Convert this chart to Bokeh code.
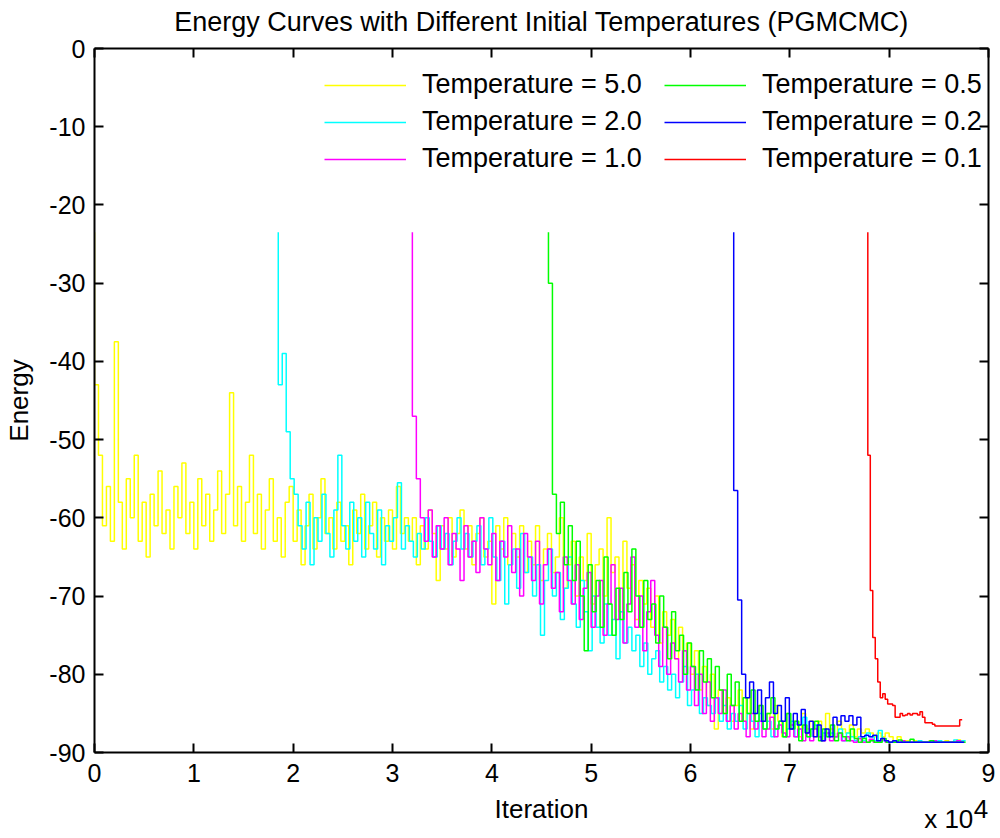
from bokeh.plotting import figure
from bokeh.models import Range1d, LinearAxis, FixedTicker, Legend, LegendItem
from bokeh.embed import file_html
from bokeh.resources import INLINE

# ---------------- data ----------------
chart_title = "Energy Curves with Different Initial Temperatures (PGMCMC)"
series_labels = ["Temperature = 5.0", "Temperature = 2.0", "Temperature = 1.0",
                 "Temperature = 0.5", "Temperature = 0.2", "Temperature = 0.1"]
series_colors = ["#ffff00", "#00ffff", "#ff00ff", "#00ff00", "#0000ff", "#ff0000"]
start_iteration = [0, 18500, 32000, 45700, 64350, 77850]
iteration_step = [400, 400, 400, 400, 400, 250]

energy_t50 = [
    -23.5, -43, -52, -61, -56, -63, -37.5, -58, -64, -55,
    -60, -52, -63, -58, -65, -57, -61, -54, -62, -59,
    -64, -56, -60, -53, -62, -58, -64, -55, -61, -57,
    -63, -59, -54, -62, -57, -44, -61, -56, -63, -58,
    -52, -62, -57, -64, -59, -55, -63, -60, -65, -58,
    -56, -63, -59, -66, -61, -57, -64, -60, -55, -62,
    -60, -64, -58, -63, -61, -66, -59, -62, -57, -64,
    -61, -58, -65, -60, -63, -59, -64, -56, -62, -60,
    -63, -60, -66, -61, -64, -59, -62, -68, -61, -64,
    -60, -65, -62, -59, -64, -61, -66, -62, -60, -65,
    -63, -71, -61, -64, -60, -66, -62, -65, -61, -67,
    -63, -66, -61, -68, -64, -62, -67, -65, -60, -69,
    -66, -63, -70, -65, -68, -62, -71, -66, -64, -70,
    -60, -67, -65, -72, -63, -69, -66, -73, -68, -71,
    -69, -74, -70, -76, -72, -75, -73, -78, -74, -77,
    -76, -80, -77, -82, -79, -84, -80, -87, -82, -85,
    -83, -86, -84, -82, -86, -83, -87, -85, -84, -86,
    -85, -87, -84, -86, -88, -85, -87, -86, -88, -85,
    -87, -86, -88, -86, -87, -85, -87, -88, -86, -87,
    -87.5, -86.5, -88, -87, -87.5, -87, -87.5, -88, -87.5, -88,
    -87.5, -88, -88.5, -88, -88.5, -88.5, -88.7, -88.5, -88.7, -88.7,
    -88.7, -88.5, -88.7, -88.7, -88.7, -88.5, -88.7, -88.7, -88.4, -88.7,
]

energy_t20 = [
    -23.5, -43, -39, -49, -55, -57, -61, -64, -58, -66,
    -60, -63, -57, -62, -65, -59, -52, -61, -64, -58,
    -63, -60, -65, -58, -62, -64, -59, -66, -61, -63,
    -60, -55.5, -64, -61, -63, -65, -62, -64, -60, -63,
    -65, -61, -64, -62, -66, -63, -60, -64, -62, -65,
    -63, -61, -66, -64, -60, -65, -68, -63, -71, -66,
    -64, -69, -62, -67, -65, -70, -66, -75, -68, -64,
    -70, -67, -73, -69, -65, -71, -74, -68, -72, -77,
    -70, -74, -76, -71, -75, -73, -78, -72, -76, -74,
    -77, -75, -79, -76, -80, -78, -77, -81, -79, -82,
    -80, -83, -81, -79, -84, -82, -80, -85, -83, -84,
    -85, -83, -86, -84, -87, -85, -86, -84, -87, -85,
    -86, -88, -85, -87, -86, -88, -87, -86, -88, -87,
    -86, -88, -87, -85.5, -88, -87, -86.5, -88, -87.5, -88,
    -87.5, -88, -87, -88.5, -87.5, -88, -88.5, -88, -88.5, -87.5,
    -88, -88.5, -87.2, -88.5, -88.7, -88.7, -88.5, -88.7, -88.7, -88.7,
    -88.7, -88.7, -88.5, -88.7, -88.7, -88.7, -88.7, -88.5, -88.7, -88.7,
    -88.7, -88.4, -88.7, -88.5,
]

energy_t10 = [
    -23.5, -47, -55, -60, -63, -59, -65, -61, -64, -60,
    -66, -62, -64, -68, -61, -65, -63, -67, -60, -64,
    -66, -62, -68, -63, -65, -61, -67, -64, -70, -62,
    -65, -68, -63, -71, -66, -64, -69, -67, -72, -65,
    -68, -71, -66, -73, -69, -67, -74, -70, -68, -75,
    -71, -66, -73, -69, -76, -71, -65, -74, -70, -77,
    -72, -68, -75, -79, -74, -80, -76, -78, -81, -77,
    -82, -79, -84, -80, -85, -81, -86, -83, -85, -82,
    -86, -84, -87, -85, -86, -88, -85, -87, -86, -88,
    -87, -85.5, -88, -86.5, -87.5, -88, -86.5, -88, -87, -88.5,
    -87.5, -88.5, -87, -88, -88.5, -87.5, -88.5, -88, -87.5, -88.5,
    -88, -88.5, -88.7, -88.2, -88.7, -88.7, -88.3, -88.7, -88.7, -88.4,
    -88.7, -88.7, -88.7, -88.7, -88.5, -88.7, -88.7, -88.7, -88.7, -88.7,
    -88.7, -88.7, -88.5, -88.7, -88.7, -88.7, -88.7, -88.7, -88.5, -88.7,
]

energy_t05 = [
    -23.5, -30, -57, -62, -58, -66, -61, -68, -63, -70,
    -77, -66, -72, -68, -74, -65, -71, -75, -69, -73,
    -67, -72, -64, -70, -74, -68, -73, -71, -76, -70,
    -74, -78, -72, -77, -75, -80, -76, -79, -82, -77,
    -81, -78, -83, -79, -82, -85, -80, -84, -81, -86,
    -83, -85, -82, -86, -84, -87, -85, -83, -87, -86,
    -88, -85, -87, -86, -88.5, -86.5, -88, -87, -86, -88.5,
    -87, -88, -86.5, -88.5, -87.5, -88, -88.5, -87, -88.2, -88.7,
    -88.2, -88.7, -88.5, -88.7, -88.7, -88.2, -88.7, -88.7, -88.7, -88.4,
    -88.7, -88.7, -88.3, -88.7, -88.7, -88.7, -88.7, -88.5, -88.7, -88.7,
    -88.7, -88.7, -88.7, -88.7, -88.7, -88.7,
]

energy_t02 = [
    -23.5, -56.5, -70.5, -80, -83, -81, -85, -82, -86, -83,
    -81, -85, -84, -86, -83, -87, -85, -86.5, -84.5, -87.5,
    -86, -88, -86.5, -88.5, -87, -88, -85.5, -86.5, -85.3, -86,
    -85.3, -86.5, -85.5, -88, -87.8, -88, -87.8, -88.5, -88.2, -88.5,
    -88.7, -88.5, -88.7, -88.7, -88.7, -88.7, -88.7, -88.7, -88.7, -88.7,
    -88.7, -88.7, -88.7, -88.7, -88.7, -88.7, -88.7, -88.7, -88.7,
]

energy_t01 = [
    -23.5, -52, -69.3, -75.3, -78, -81, -83, -82.5, -83.2, -83.8,
    -83.8, -84, -85.5, -85.5, -85, -85.3, -85.2, -85, -85.2, -85,
    -85, -85.2, -84.8, -85.5, -86.2, -86.2, -86.2, -86.4, -86.6, -86.6,
    -86.6, -86.6, -86.6, -86.6, -86.6, -86.6, -86.6, -86.6, -85.8,
]

all_energy = [energy_t50, energy_t20, energy_t10, energy_t05, energy_t02, energy_t01]

x_tick_values = [0, 10000, 20000, 30000, 40000, 50000, 60000, 70000, 80000, 90000]
x_tick_labels = ["0", "1", "2", "3", "4", "5", "6", "7", "8", "9"]
y_tick_values = [-90, -80, -70, -60, -50, -40, -30, -20, -10, 0]
y_tick_labels = ["-90", "-80", "-70", "-60", "-50", "-40", "-30", "-20", "-10", "0"]
x_axis_title = "Iteration"
y_axis_title = "Energy"
x_scale_base = "x 10"
x_scale_exponent = "4"
x_scale_base_pos = 86000
x_scale_exponent_pos = 89250

FONT = "Liberation Sans"
FS_TICK = "25px"
FS_LABEL = "26px"
FS_BIG = "27px"

# ---------------- figure ----------------
p = figure(width=1000, height=838, output_backend="svg", toolbar_location=None,
           x_range=Range1d(0, 90000), y_range=Range1d(-90, 0),
           min_border_left=94, min_border_right=12, min_border_top=48, min_border_bottom=86)
p.xgrid.visible = False
p.ygrid.visible = False
p.outline_line_color = None
p.background_fill_color = "white"
p.border_fill_color = "white"

renderers = []
for vals, start, step, col in zip(all_energy, start_iteration, iteration_step, series_colors):
    xs = [start + step * i for i in range(len(vals))]
    r = p.step(xs, vals, mode="before", line_color=col, line_width=1.5)
    renderers.append(r)


def style_axis(ax, ticks, show_labels):
    ax.ticker = FixedTicker(ticks=ticks)
    ax.axis_line_color = "black"
    ax.axis_line_width = 2
    ax.major_tick_in = 9
    ax.major_tick_out = 0
    ax.major_tick_line_color = "black"
    ax.major_tick_line_width = 2
    ax.minor_tick_line_color = None
    ax.axis_label_text_font = FONT
    ax.axis_label_text_font_style = "normal"
    ax.axis_label_text_color = "black"
    if show_labels:
        ax.major_label_text_font = FONT
        ax.major_label_text_font_size = FS_TICK
        ax.major_label_text_color = "black"
        ax.axis_label_text_font_size = FS_LABEL
    else:
        # mirrored box axis: ticks only, labels not painted
        ax.major_label_text_font_size = "1px"
        ax.major_label_text_color = None
        ax.major_label_standoff = 0


def text_axis(ax, ticks, labels, standoff):
    ax.ticker = FixedTicker(ticks=ticks)
    ax.major_label_overrides = {t: s for t, s in zip(ticks, labels)}
    ax.axis_line_color = None
    ax.major_tick_line_color = None
    ax.minor_tick_line_color = None
    ax.major_tick_in = 0
    ax.major_tick_out = 0
    ax.major_label_text_font = FONT
    ax.major_label_text_font_size = FS_LABEL
    ax.major_label_text_color = "black"
    ax.major_label_standoff = standoff


xa = p.xaxis[0]
ya = p.yaxis[0]
style_axis(xa, x_tick_values, True)
style_axis(ya, y_tick_values, True)
xa.major_label_overrides = {v: s for v, s in zip(x_tick_values, x_tick_labels)}
xa.major_label_standoff = 11
ya.major_label_overrides = {v: s for v, s in zip(y_tick_values, y_tick_labels)}
ya.major_label_standoff = 9
ya.axis_label = y_axis_title
ya.axis_label_standoff = 12

# second row under the x axis: axis title and the exponent
row2 = LinearAxis()
p.add_layout(row2, "below")
text_axis(row2, [45000, x_scale_exponent_pos], [x_axis_title, x_scale_exponent], 9)
# third row: "x 10", pulled up next to the exponent
row3 = LinearAxis()
p.add_layout(row3, "below")
text_axis(row3, [x_scale_base_pos], [x_scale_base], -23)

top_ax = LinearAxis()
right_ax = LinearAxis()
p.add_layout(top_ax, "above")
p.add_layout(right_ax, "right")
style_axis(top_ax, x_tick_values, False)
style_axis(right_ax, y_tick_values, False)
top_ax.axis_label = chart_title
top_ax.axis_label_text_font_size = FS_BIG
top_ax.axis_label_standoff = 12

# legends (two columns)
def make_legend(idx, x_loc):
    lg = Legend(items=[LegendItem(label=series_labels[i], renderers=[renderers[i]]) for i in idx],
                location=(x_loc, 578), orientation="vertical",
                label_text_font=FONT, label_text_font_size=FS_BIG, label_text_color="black",
                glyph_width=82, glyph_height=28, label_height=28, spacing=6,
                label_standoff=16, padding=0, margin=0,
                border_line_color=None, background_fill_alpha=0)
    return lg

p.add_layout(make_legend([0, 1, 2], 230))
p.add_layout(make_legend([3, 4, 5], 570))

open("out.html", "w").write(file_html(p, INLINE))
